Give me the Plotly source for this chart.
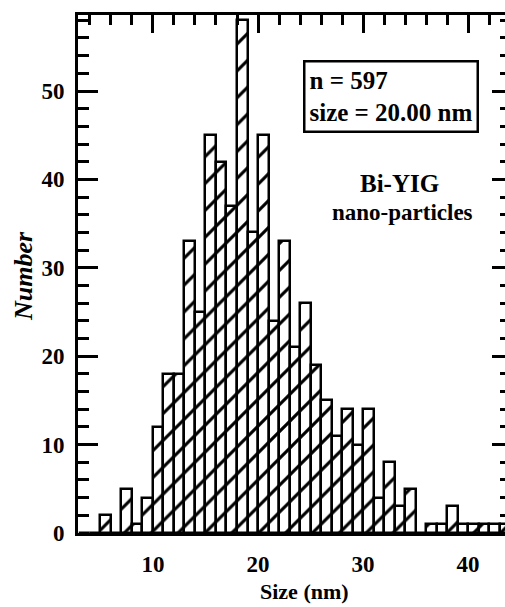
import plotly.graph_objects as go

# Histogram data: bins of 1 nm, left edges 3..43
bin_left = list(range(3, 44))
counts = [0, 0, 2, 0, 5, 1, 4,
          12, 18, 18, 33, 25, 45, 42, 37, 58, 34,
          45, 24, 33, 21, 26, 19, 15, 11, 14, 10,
          14, 4, 8, 3, 5, 0, 1, 1, 3, 1,
          1, 1, 1, 1]
x_ticks = [10, 20, 30, 40]
y_ticks = [0, 10, 20, 30, 40, 50]
box_lines = ["n = 597", "size = 20.00 nm"]
label_lines = ["Bi-YIG", "nano-particles"]

FONT = "Times New Roman, Liberation Serif, serif"
XR = [2.86, 43.52]
YR = [0, 58.6]

centers = [b + 0.5 for b in bin_left]

fig = go.Figure()
fig.add_trace(go.Bar(
    x=centers, y=counts, width=1.0,
    marker=dict(color="white", line=dict(color="black", width=2.5),
                pattern=dict(shape="/", fgcolor="black", bgcolor="white",
                             fgopacity=1, size=19, solidity=0.16)),
    showlegend=False, hoverinfo="skip"))
# helper trace to make the top/right axes render
fig.add_trace(go.Scatter(x=[None], y=[None], xaxis="x2", yaxis="y2",
                         showlegend=False, hoverinfo="skip"))

tickfont = dict(family=FONT, size=23, color="black", weight="bold")

fig.update_layout(
    width=505, height=607,
    margin=dict(l=78, r=0, t=15, b=74),
    paper_bgcolor="white", plot_bgcolor="white",
    bargap=0,
    xaxis=dict(range=XR, showgrid=False, zeroline=False,
               showline=True, linecolor="black", linewidth=3,
               ticks="", tickvals=x_ticks, ticktext=[str(v) for v in x_ticks],
               tickfont=tickfont, ticklabelstandoff=8),
    xaxis2=dict(range=XR, overlaying="x", side="top", showgrid=False,
                zeroline=False, showline=True, linecolor="black", linewidth=3,
                ticks="inside", ticklen=18, tickwidth=2.5, tickcolor="black",
                tickvals=x_ticks, showticklabels=False,
                minor=dict(dtick=2, tick0=0, ticks="inside", ticklen=10,
                           tickwidth=2.5, tickcolor="black")),
    yaxis=dict(range=YR, showgrid=False, zeroline=False,
               showline=True, linecolor="black", linewidth=3,
               ticks="inside", ticklen=20, tickwidth=2.5, tickcolor="black",
               tickvals=y_ticks, ticktext=[str(v) for v in y_ticks],
               tickfont=tickfont, ticklabelstandoff=6,
               minor=dict(dtick=2, tick0=0, ticks="inside", ticklen=11,
                          tickwidth=2.5, tickcolor="black")),
    yaxis2=dict(range=YR, overlaying="y", side="right", showgrid=False,
                zeroline=False, showline=False,
                ticks="inside", ticklen=13, tickwidth=2.5, tickcolor="black",
                tickvals=y_ticks, showticklabels=False,
                minor=dict(dtick=2, tick0=0, ticks="inside", ticklen=5,
                           tickwidth=2.5, tickcolor="black")),
)

fig.add_annotation(
    xref="paper", yref="paper", x=(303 - 78) / 427, y=(533 - 60) / 518,
    xanchor="left", yanchor="top", align="left",
    text="<br>".join(box_lines), showarrow=False,
    font=dict(family=FONT, size=25, color="black", weight="bold"),
    bordercolor="black", borderwidth=2.5, borderpad=4, bgcolor="white")

fig.add_annotation(
    xref="paper", yref="paper", x=(399 - 78) / 427, y=(533 - 183) / 518,
    xanchor="center", yanchor="middle", text=label_lines[0], showarrow=False,
    font=dict(family=FONT, size=25, color="black", weight="bold"))
fig.add_annotation(
    xref="paper", yref="paper", x=(402 - 78) / 427, y=(533 - 212) / 518,
    xanchor="center", yanchor="middle", text=label_lines[1], showarrow=False,
    font=dict(family=FONT, size=23, color="black", weight="bold"))

# axis titles
fig.add_annotation(
    xref="paper", yref="paper", x=(23 - 78) / 427, y=(533 - 276) / 518,
    xanchor="center", yanchor="middle", text="Number", textangle=-90,
    showarrow=False,
    font=dict(family=FONT, size=26, color="black", weight="bold", style="italic"))
fig.add_annotation(
    xref="paper", yref="paper", x=(304 - 78) / 427, y=(533 - 592) / 518,
    xanchor="center", yanchor="middle", text="Size (nm)", showarrow=False,
    font=dict(family=FONT, size=22, color="black", weight="bold"))

fig.write_html("out.html")
